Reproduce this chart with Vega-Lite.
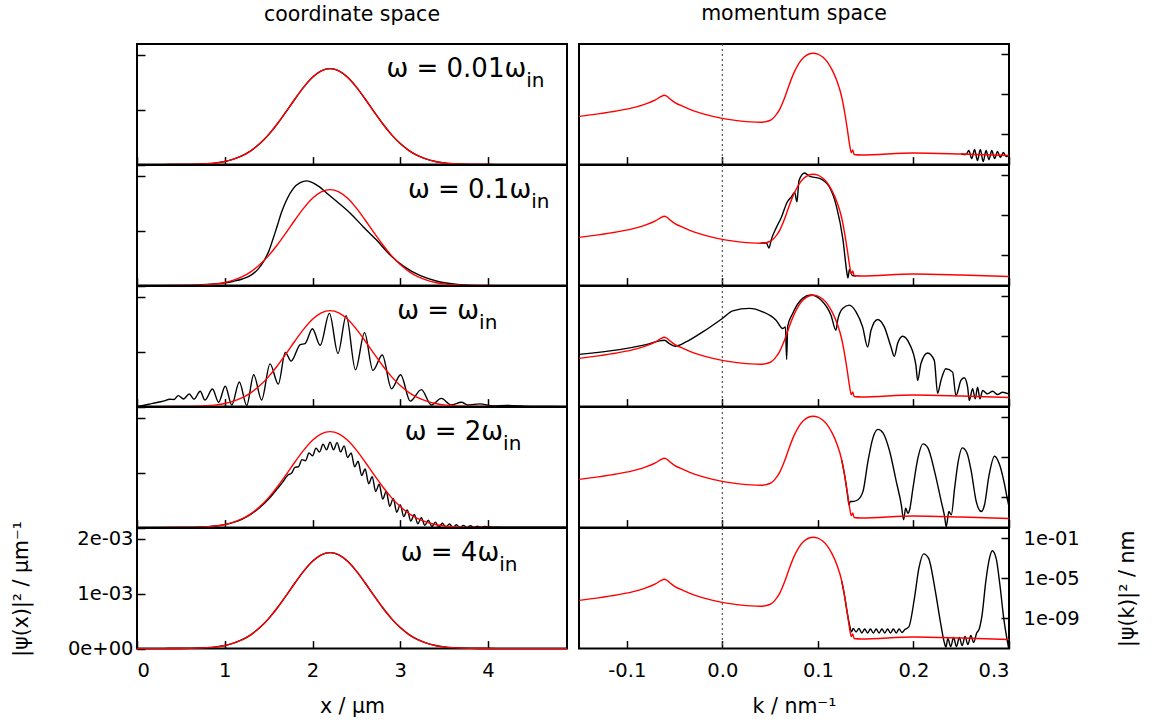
{
  "$schema": "https://vega.github.io/schema/vega-lite/v6.json",
  "background": "white",
  "padding": {"left": 10, "top": 3, "right": 5, "bottom": 5},
  "config": {
    "font": "DejaVu Sans",
    "view": {"stroke": "black", "strokeWidth": 2},
    "axis": {"domain": false, "grid": false, "tickColor": "black", "tickWidth": 1.5, "tickSize": -8, "labelFont": "DejaVu Sans", "labelFontSize": 19.5, "labelColor": "black", "titleFont": "DejaVu Sans", "titleFontSize": 20.5, "titleFontWeight": "normal", "titleColor": "black"},
    "line": {"strokeWidth": 1.4, "interpolate": "monotone", "clip": true},
    "text": {"font": "DejaVu Sans", "color": "black"},
    "title": {"font": "DejaVu Sans", "fontSize": 20.5, "fontWeight": "normal", "color": "black"}
  },
  "datasets": {
    "redL": [
      {"x": 0, "y": 0}, {"x": 0.3, "y": 0}, {"x": 0.4, "y": 0.001}, {"x": 0.5, "y": 0.002}, {"x": 0.6, "y": 0.004}, {"x": 0.7, "y": 0.008}, {"x": 0.8, "y": 0.017}, {"x": 0.9, "y": 0.032}, {"x": 1.0, "y": 0.057}, {"x": 1.1, "y": 0.099}, {"x": 1.2, "y": 0.163}, {"x": 1.3, "y": 0.256}, {"x": 1.4, "y": 0.383}, {"x": 1.5, "y": 0.547}, {"x": 1.6, "y": 0.745}, {"x": 1.7, "y": 0.967}, {"x": 1.8, "y": 1.197}, {"x": 1.9, "y": 1.413}, {"x": 2.0, "y": 1.592}, {"x": 2.1, "y": 1.709}, {"x": 2.2, "y": 1.75}, {"x": 2.3, "y": 1.709}, {"x": 2.4, "y": 1.592}, {"x": 2.5, "y": 1.413}, {"x": 2.6, "y": 1.197}, {"x": 2.7, "y": 0.967}, {"x": 2.8, "y": 0.745}, {"x": 2.9, "y": 0.547}, {"x": 3.0, "y": 0.383}, {"x": 3.1, "y": 0.256}, {"x": 3.2, "y": 0.163}, {"x": 3.3, "y": 0.099}, {"x": 3.4, "y": 0.057}, {"x": 3.5, "y": 0.032}, {"x": 3.6, "y": 0.017}, {"x": 3.7, "y": 0.008}, {"x": 3.8, "y": 0.004}, {"x": 3.9, "y": 0.002}, {"x": 4.0, "y": 0.001}, {"x": 4.1, "y": 0}, {"x": 4.9, "y": 0}
    ],
    "b2L": [
      {"x": 0, "y": 0}, {"x": 0.6, "y": 0.004}, {"x": 0.8, "y": 0.02}, {"x": 1.0, "y": 0.05}, {"x": 1.1, "y": 0.08}, {"x": 1.2, "y": 0.12}, {"x": 1.3, "y": 0.19}, {"x": 1.38, "y": 0.3}, {"x": 1.45, "y": 0.46}, {"x": 1.5, "y": 0.62}, {"x": 1.55, "y": 0.85}, {"x": 1.6, "y": 1.1}, {"x": 1.65, "y": 1.35}, {"x": 1.71, "y": 1.58}, {"x": 1.78, "y": 1.77}, {"x": 1.86, "y": 1.88}, {"x": 1.935, "y": 1.91}, {"x": 2.0, "y": 1.88}, {"x": 2.08, "y": 1.8}, {"x": 2.16, "y": 1.69}, {"x": 2.28, "y": 1.53}, {"x": 2.43, "y": 1.32}, {"x": 2.58, "y": 1.07}, {"x": 2.73, "y": 0.83}, {"x": 2.89, "y": 0.55}, {"x": 3.04, "y": 0.35}, {"x": 3.23, "y": 0.18}, {"x": 3.42, "y": 0.08}, {"x": 3.65, "y": 0.02}, {"x": 3.8, "y": 0.005}, {"x": 4.0, "y": 0}, {"x": 4.9, "y": 0}
    ],
    "b3L": [
      {"x": 0, "y": 0}, {"x": 0.07, "y": 0.02}, {"x": 0.18, "y": 0.06}, {"x": 0.3, "y": 0.1}, {"x": 0.375, "y": 0.135}, {"x": 0.42, "y": 0.13}, {"x": 0.47, "y": 0.2}, {"x": 0.53, "y": 0.14}, {"x": 0.595, "y": 0.23}, {"x": 0.65, "y": 0.135}, {"x": 0.72, "y": 0.28}, {"x": 0.775, "y": 0.12}, {"x": 0.86, "y": 0.32}, {"x": 0.93, "y": 0.08}, {"x": 1.006, "y": 0.37}, {"x": 1.08, "y": 0.03}, {"x": 1.166, "y": 0.45}, {"x": 1.25, "y": 0.02}, {"x": 1.33, "y": 0.58}, {"x": 1.42, "y": 0.12}, {"x": 1.516, "y": 0.78}, {"x": 1.61, "y": 0.41}, {"x": 1.69, "y": 0.99}, {"x": 1.756, "y": 0.83}, {"x": 1.86, "y": 1.13}, {"x": 1.915, "y": 1.15}, {"x": 1.999, "y": 1.42}, {"x": 2.087, "y": 1.12}, {"x": 2.193, "y": 1.7}, {"x": 2.29, "y": 0.97}, {"x": 2.384, "y": 1.66}, {"x": 2.49, "y": 0.67}, {"x": 2.593, "y": 1.35}, {"x": 2.688, "y": 0.66}, {"x": 2.795, "y": 0.94}, {"x": 2.9, "y": 0.325}, {"x": 3.004, "y": 0.58}, {"x": 3.114, "y": 0.1}, {"x": 3.24, "y": 0.31}, {"x": 3.354, "y": 0.03}, {"x": 3.468, "y": 0.15}, {"x": 3.58, "y": 0.03}, {"x": 3.697, "y": 0.08}, {"x": 3.77, "y": 0.03}, {"x": 3.906, "y": 0.05}, {"x": 4.06, "y": 0.012}, {"x": 4.21, "y": 0.02}, {"x": 4.5, "y": 0.005}, {"x": 4.9, "y": 0}
    ],
    "b4L": [
      {"x": 0, "y": 0}, {"x": 0.5, "y": 0.002}, {"x": 0.7, "y": 0.008}, {"x": 0.9, "y": 0.03}, {"x": 1.0, "y": 0.055}, {"x": 1.1, "y": 0.095}, {"x": 1.2, "y": 0.155}, {"x": 1.3, "y": 0.245}, {"x": 1.4, "y": 0.365}, {"x": 1.5, "y": 0.52}, {"x": 1.6, "y": 0.71}, {"x": 1.66, "y": 0.83}, {"x": 1.72, "y": 0.96}, {"x": 1.76, "y": 0.99}, {"x": 1.8, "y": 1.1}, {"x": 1.84, "y": 1.11}, {"x": 1.88, "y": 1.24}, {"x": 1.92, "y": 1.22}, {"x": 1.96, "y": 1.36}, {"x": 2.0, "y": 1.31}, {"x": 2.04, "y": 1.45}, {"x": 2.08, "y": 1.38}, {"x": 2.12, "y": 1.52}, {"x": 2.16, "y": 1.42}, {"x": 2.2, "y": 1.56}, {"x": 2.24, "y": 1.42}, {"x": 2.28, "y": 1.55}, {"x": 2.32, "y": 1.38}, {"x": 2.36, "y": 1.49}, {"x": 2.4, "y": 1.28}, {"x": 2.44, "y": 1.36}, {"x": 2.48, "y": 1.11}, {"x": 2.52, "y": 1.21}, {"x": 2.56, "y": 0.95}, {"x": 2.6, "y": 1.07}, {"x": 2.64, "y": 0.8}, {"x": 2.68, "y": 0.93}, {"x": 2.72, "y": 0.66}, {"x": 2.76, "y": 0.79}, {"x": 2.8, "y": 0.52}, {"x": 2.84, "y": 0.66}, {"x": 2.88, "y": 0.39}, {"x": 2.92, "y": 0.53}, {"x": 2.96, "y": 0.28}, {"x": 3.0, "y": 0.42}, {"x": 3.04, "y": 0.2}, {"x": 3.08, "y": 0.32}, {"x": 3.12, "y": 0.12}, {"x": 3.16, "y": 0.24}, {"x": 3.2, "y": 0.07}, {"x": 3.24, "y": 0.18}, {"x": 3.28, "y": 0.04}, {"x": 3.32, "y": 0.135}, {"x": 3.36, "y": 0.02}, {"x": 3.4, "y": 0.1}, {"x": 3.44, "y": 0.012}, {"x": 3.48, "y": 0.08}, {"x": 3.52, "y": 0.005}, {"x": 3.56, "y": 0.065}, {"x": 3.6, "y": 0.002}, {"x": 3.64, "y": 0.052}, {"x": 3.68, "y": 0.002}, {"x": 3.72, "y": 0.041}, {"x": 3.76, "y": 0.002}, {"x": 3.8, "y": 0.035}, {"x": 3.84, "y": 0.005}, {"x": 3.88, "y": 0.025}, {"x": 3.92, "y": 0.005}, {"x": 3.96, "y": 0.02}, {"x": 4.0, "y": 0.01}, {"x": 4.2, "y": 0.008}, {"x": 4.9, "y": 0.005}
    ],
    "redR": [
      {"k": -0.15, "lg": -7.2}, {"k": -0.13, "lg": -6.95}, {"k": -0.11, "lg": -6.65}, {"k": -0.09, "lg": -6.25}, {"k": -0.08, "lg": -5.95}, {"k": -0.07, "lg": -5.55}, {"k": -0.064, "lg": -5.22}, {"k": -0.061, "lg": -5.1}, {"k": -0.058, "lg": -5.2}, {"k": -0.055, "lg": -5.45}, {"k": -0.05, "lg": -5.8}, {"k": -0.04, "lg": -6.25}, {"k": -0.03, "lg": -6.65}, {"k": -0.02, "lg": -6.95}, {"k": -0.01, "lg": -7.2}, {"k": 0, "lg": -7.4}, {"k": 0.01, "lg": -7.55}, {"k": 0.02, "lg": -7.67}, {"k": 0.03, "lg": -7.75}, {"k": 0.04, "lg": -7.78}, {"k": 0.046, "lg": -7.72}, {"k": 0.051, "lg": -7.55}, {"k": 0.055, "lg": -7.2}, {"k": 0.06, "lg": -6.5}, {"k": 0.065, "lg": -5.4}, {"k": 0.07, "lg": -4.05}, {"k": 0.075, "lg": -2.85}, {"k": 0.08, "lg": -1.95}, {"k": 0.085, "lg": -1.35}, {"k": 0.09, "lg": -1.02}, {"k": 0.095, "lg": -0.92}, {"k": 0.1, "lg": -1.0}, {"k": 0.105, "lg": -1.3}, {"k": 0.11, "lg": -1.8}, {"k": 0.115, "lg": -2.6}, {"k": 0.12, "lg": -3.7}, {"k": 0.125, "lg": -5.3}, {"k": 0.128, "lg": -6.8}, {"k": 0.131, "lg": -8.6}, {"k": 0.133, "lg": -9.9}, {"k": 0.135, "lg": -10.8}, {"k": 0.1365, "lg": -10.55}, {"k": 0.138, "lg": -11.0}, {"k": 0.145, "lg": -11.05}, {"k": 0.2, "lg": -10.85}, {"k": 0.25, "lg": -10.95}, {"k": 0.3, "lg": -11.1}
    ],
    "b1R": [
      {"k": 0.25, "lg": -10.95}, {"k": 0.255, "lg": -11.0}, {"k": 0.258, "lg": -10.6}, {"k": 0.261, "lg": -11.4}, {"k": 0.264, "lg": -10.5}, {"k": 0.267, "lg": -11.6}, {"k": 0.27, "lg": -10.5}, {"k": 0.273, "lg": -11.7}, {"k": 0.276, "lg": -10.6}, {"k": 0.279, "lg": -11.5}, {"k": 0.282, "lg": -10.6}, {"k": 0.285, "lg": -11.4}, {"k": 0.288, "lg": -10.7}, {"k": 0.291, "lg": -11.3}, {"k": 0.294, "lg": -10.8}, {"k": 0.297, "lg": -11.2}, {"k": 0.3, "lg": -11.1}
    ],
    "b2R": [
      {"k": 0.04, "lg": -7.78}, {"k": 0.046, "lg": -7.73}, {"k": 0.0488, "lg": -8.27}, {"k": 0.0513, "lg": -7.4}, {"k": 0.0565, "lg": -6.23}, {"k": 0.0617, "lg": -5.23}, {"k": 0.0677, "lg": -3.73}, {"k": 0.0722, "lg": -3.17}, {"k": 0.0757, "lg": -2.73}, {"k": 0.0781, "lg": -3.67}, {"k": 0.0802, "lg": -1.57}, {"k": 0.0861, "lg": -0.8}, {"k": 0.0914, "lg": -1.13}, {"k": 0.1018, "lg": -1.33}, {"k": 0.1123, "lg": -2.23}, {"k": 0.1193, "lg": -4.07}, {"k": 0.1262, "lg": -7.4}, {"k": 0.1304, "lg": -10.73}, {"k": 0.1315, "lg": -11.23}, {"k": 0.133, "lg": -10.4}, {"k": 0.136, "lg": -11.0}, {"k": 0.14, "lg": -11.05}
    ],
    "b3R": [
      {"k": -0.15, "lg": -6.8}, {"k": -0.1077, "lg": -6.33}, {"k": -0.0798, "lg": -5.83}, {"k": -0.0606, "lg": -5.4}, {"k": -0.0554, "lg": -5.73}, {"k": -0.0491, "lg": -6.0}, {"k": -0.038, "lg": -5.57}, {"k": -0.0205, "lg": -4.57}, {"k": 0, "lg": -3.23}, {"k": 0.0109, "lg": -2.47}, {"k": 0.0283, "lg": -2.23}, {"k": 0.0422, "lg": -2.57}, {"k": 0.0562, "lg": -3.4}, {"k": 0.0632, "lg": -4.23}, {"k": 0.066, "lg": -4.07}, {"k": 0.0673, "lg": -7.3}, {"k": 0.0684, "lg": -4.0}, {"k": 0.0736, "lg": -2.73}, {"k": 0.0841, "lg": -1.23}, {"k": 0.0928, "lg": -0.9}, {"k": 0.1033, "lg": -1.4}, {"k": 0.1137, "lg": -2.9}, {"k": 0.1189, "lg": -4.4}, {"k": 0.1207, "lg": -3.4}, {"k": 0.1259, "lg": -2.23}, {"k": 0.1329, "lg": -1.9}, {"k": 0.1399, "lg": -2.57}, {"k": 0.1468, "lg": -4.07}, {"k": 0.1521, "lg": -6.07}, {"k": 0.1556, "lg": -4.4}, {"k": 0.1625, "lg": -3.33}, {"k": 0.1695, "lg": -4.07}, {"k": 0.1765, "lg": -6.07}, {"k": 0.18, "lg": -7.0}, {"k": 0.1834, "lg": -5.73}, {"k": 0.1887, "lg": -5.0}, {"k": 0.1957, "lg": -5.73}, {"k": 0.2026, "lg": -7.9}, {"k": 0.2044, "lg": -9.4}, {"k": 0.2078, "lg": -7.73}, {"k": 0.2148, "lg": -6.67}, {"k": 0.2218, "lg": -7.4}, {"k": 0.2253, "lg": -10.67}, {"k": 0.2288, "lg": -9.4}, {"k": 0.234, "lg": -8.23}, {"k": 0.241, "lg": -8.57}, {"k": 0.2445, "lg": -10.9}, {"k": 0.2497, "lg": -9.4}, {"k": 0.2532, "lg": -9.13}, {"k": 0.2567, "lg": -10.07}, {"k": 0.2584, "lg": -11.4}, {"k": 0.2619, "lg": -10.23}, {"k": 0.2647, "lg": -11.23}, {"k": 0.2671, "lg": -10.07}, {"k": 0.2696, "lg": -11.23}, {"k": 0.2724, "lg": -10.4}, {"k": 0.2776, "lg": -10.73}, {"k": 0.2828, "lg": -10.47}, {"k": 0.2881, "lg": -10.8}, {"k": 0.2933, "lg": -10.57}, {"k": 0.2996, "lg": -10.73}
    ],
    "b4R": [
      {"k": 0.125, "lg": -5.3}, {"k": 0.128, "lg": -6.8}, {"k": 0.1315, "lg": -9.07}, {"k": 0.1325, "lg": -9.73}, {"k": 0.1339, "lg": -9.4}, {"k": 0.1367, "lg": -9.4}, {"k": 0.1419, "lg": -9.23}, {"k": 0.1472, "lg": -8.4}, {"k": 0.1524, "lg": -5.4}, {"k": 0.1576, "lg": -3.07}, {"k": 0.1629, "lg": -2.23}, {"k": 0.1681, "lg": -2.57}, {"k": 0.1751, "lg": -4.4}, {"k": 0.182, "lg": -7.4}, {"k": 0.1873, "lg": -9.73}, {"k": 0.1897, "lg": -11.23}, {"k": 0.1918, "lg": -10.07}, {"k": 0.1942, "lg": -10.57}, {"k": 0.196, "lg": -10.23}, {"k": 0.1995, "lg": -8.07}, {"k": 0.2047, "lg": -5.07}, {"k": 0.21, "lg": -3.67}, {"k": 0.2151, "lg": -4.07}, {"k": 0.2221, "lg": -6.4}, {"k": 0.2291, "lg": -9.4}, {"k": 0.2326, "lg": -10.9}, {"k": 0.2343, "lg": -11.9}, {"k": 0.2371, "lg": -10.4}, {"k": 0.2396, "lg": -10.73}, {"k": 0.2431, "lg": -8.07}, {"k": 0.2466, "lg": -5.57}, {"k": 0.2511, "lg": -4.07}, {"k": 0.256, "lg": -4.57}, {"k": 0.2605, "lg": -6.4}, {"k": 0.2657, "lg": -9.4}, {"k": 0.271, "lg": -10.4}, {"k": 0.2744, "lg": -9.73}, {"k": 0.2789, "lg": -6.9}, {"k": 0.2849, "lg": -4.9}, {"k": 0.2901, "lg": -5.73}, {"k": 0.2954, "lg": -7.73}, {"k": 0.2988, "lg": -9.4}, {"k": 0.3, "lg": -9.9}
    ],
    "b5R": [
      {"k": 0.125, "lg": -5.3}, {"k": 0.128, "lg": -6.8}, {"k": 0.131, "lg": -8.6}, {"k": 0.1332, "lg": -9.67}, {"k": 0.1351, "lg": -10.33}, {"k": 0.137, "lg": -10.0}, {"k": 0.14, "lg": -10.35}, {"k": 0.143, "lg": -10.0}, {"k": 0.146, "lg": -10.45}, {"k": 0.149, "lg": -10.05}, {"k": 0.152, "lg": -10.45}, {"k": 0.155, "lg": -10.05}, {"k": 0.158, "lg": -10.45}, {"k": 0.161, "lg": -10.05}, {"k": 0.164, "lg": -10.45}, {"k": 0.167, "lg": -10.05}, {"k": 0.17, "lg": -10.45}, {"k": 0.173, "lg": -10.05}, {"k": 0.176, "lg": -10.45}, {"k": 0.179, "lg": -10.05}, {"k": 0.182, "lg": -10.45}, {"k": 0.185, "lg": -10.05}, {"k": 0.188, "lg": -10.4}, {"k": 0.191, "lg": -10.1}, {"k": 0.1952, "lg": -9.83}, {"k": 0.201, "lg": -7.0}, {"k": 0.2057, "lg": -4.0}, {"k": 0.2107, "lg": -2.57}, {"k": 0.2158, "lg": -3.0}, {"k": 0.2224, "lg": -6.0}, {"k": 0.2282, "lg": -9.33}, {"k": 0.2321, "lg": -11.33}, {"k": 0.234, "lg": -11.85}, {"k": 0.236, "lg": -11.0}, {"k": 0.239, "lg": -11.8}, {"k": 0.242, "lg": -10.9}, {"k": 0.245, "lg": -11.8}, {"k": 0.248, "lg": -10.9}, {"k": 0.251, "lg": -11.7}, {"k": 0.254, "lg": -10.8}, {"k": 0.257, "lg": -11.6}, {"k": 0.26, "lg": -10.7}, {"k": 0.263, "lg": -11.4}, {"k": 0.266, "lg": -10.5}, {"k": 0.269, "lg": -10.0}, {"k": 0.2718, "lg": -8.67}, {"k": 0.2757, "lg": -5.33}, {"k": 0.2796, "lg": -3.0}, {"k": 0.2825, "lg": -2.27}, {"k": 0.2865, "lg": -3.0}, {"k": 0.2905, "lg": -5.67}, {"k": 0.2945, "lg": -9.0}, {"k": 0.2995, "lg": -11.9}
    ]
  },
  "columns": 2,
  "spacing": {"row": 0, "column": 12},
  "bounds": "flush",
  "concat": [
    {
      "width": 430, "height": 120.6,
      "title": {"text": "coordinate space", "offset": 18.5},
      "layer": [
        {"data": {"name": "redL"}, "mark": {"type": "line", "color": "black"},
         "encoding": {"x": {"field": "x", "type": "quantitative", "scale": {"domain": [0, 4.9], "nice": false, "zero": false}, "axis": {"values": [0, 1, 2, 3, 4], "labels": false, "title": null}},
                      "y": {"field": "y", "type": "quantitative", "scale": {"domain": [0, 2.2], "nice": false}, "axis": {"values": [0, 1, 2], "labels": false, "title": null}}}},
        {"data": {"name": "redL"}, "mark": {"type": "line", "color": "red"},
         "encoding": {"x": {"field": "x", "type": "quantitative"}, "y": {"field": "y", "type": "quantitative"}}},
        {"data": {"values": [{}]}, "mark": {"type": "text", "align": "right", "baseline": "alphabetic", "fontSize": 26},
         "encoding": {"x": {"datum": 4.435}, "y": {"datum": 1.6}, "text": {"value": "ω = 0.01ω"}}},
        {"data": {"values": [{}]}, "mark": {"type": "text", "align": "left", "baseline": "alphabetic", "fontSize": 20, "dy": 10},
         "encoding": {"x": {"datum": 4.435}, "y": {"datum": 1.6}, "text": {"value": "in"}}}
      ]
    },
    {
      "width": 430, "height": 120.6,
      "title": {"text": "momentum space", "offset": 18.5},
      "layer": [
        {"data": {"values": [{}]}, "mark": {"type": "rule", "color": "#555555", "strokeDash": [2, 3], "strokeWidth": 1.2},
         "encoding": {"x": {"datum": 0, "type": "quantitative"}}},
        {"data": {"name": "b1R"}, "mark": {"type": "line", "color": "black"},
         "encoding": {"x": {"field": "k", "type": "quantitative", "scale": {"domain": [-0.15, 0.3], "nice": false, "zero": false}, "axis": {"values": [-0.1, 0, 0.1, 0.2, 0.3], "labels": false, "title": null}},
                      "y": {"field": "lg", "type": "quantitative", "scale": {"domain": [-12, 0], "nice": false, "zero": false}, "axis": {"orient": "right", "values": [-1, -5, -9], "labels": false, "title": null}}}},
        {"data": {"name": "redR"}, "mark": {"type": "line", "color": "red"},
         "encoding": {"x": {"field": "k", "type": "quantitative"}, "y": {"field": "lg", "type": "quantitative"}}}
      ]
    },
    {
      "width": 430, "height": 120.6,
      "layer": [
        {"data": {"name": "b2L"}, "mark": {"type": "line", "color": "black"},
         "encoding": {"x": {"field": "x", "type": "quantitative", "scale": {"domain": [0, 4.9], "nice": false, "zero": false}, "axis": {"values": [0, 1, 2, 3, 4], "labels": false, "title": null}},
                      "y": {"field": "y", "type": "quantitative", "scale": {"domain": [0, 2.2], "nice": false}, "axis": {"values": [0, 1, 2], "labels": false, "title": null}}}},
        {"data": {"name": "redL"}, "mark": {"type": "line", "color": "red"},
         "encoding": {"x": {"field": "x", "type": "quantitative"}, "y": {"field": "y", "type": "quantitative"}}},
        {"data": {"values": [{}]}, "mark": {"type": "text", "align": "right", "baseline": "alphabetic", "fontSize": 26},
         "encoding": {"x": {"datum": 4.492}, "y": {"datum": 1.6}, "text": {"value": "ω = 0.1ω"}}},
        {"data": {"values": [{}]}, "mark": {"type": "text", "align": "left", "baseline": "alphabetic", "fontSize": 20, "dy": 10},
         "encoding": {"x": {"datum": 4.492}, "y": {"datum": 1.6}, "text": {"value": "in"}}}
      ]
    },
    {
      "width": 430, "height": 120.6,
      "layer": [
        {"data": {"values": [{}]}, "mark": {"type": "rule", "color": "#555555", "strokeDash": [2, 3], "strokeWidth": 1.2},
         "encoding": {"x": {"datum": 0, "type": "quantitative"}}},
        {"data": {"name": "b2R"}, "mark": {"type": "line", "color": "black"},
         "encoding": {"x": {"field": "k", "type": "quantitative", "scale": {"domain": [-0.15, 0.3], "nice": false, "zero": false}, "axis": {"values": [-0.1, 0, 0.1, 0.2, 0.3], "labels": false, "title": null}},
                      "y": {"field": "lg", "type": "quantitative", "scale": {"domain": [-12, 0], "nice": false, "zero": false}, "axis": {"orient": "right", "values": [-1, -5, -9], "labels": false, "title": null}}}},
        {"data": {"name": "redR"}, "mark": {"type": "line", "color": "red"},
         "encoding": {"x": {"field": "k", "type": "quantitative"}, "y": {"field": "lg", "type": "quantitative"}}}
      ]
    },
    {
      "width": 430, "height": 120.6,
      "layer": [
        {"data": {"name": "b3L"}, "mark": {"type": "line", "color": "black"},
         "encoding": {"x": {"field": "x", "type": "quantitative", "scale": {"domain": [0, 4.9], "nice": false, "zero": false}, "axis": {"values": [0, 1, 2, 3, 4], "labels": false, "title": null}},
                      "y": {"field": "y", "type": "quantitative", "scale": {"domain": [0, 2.2], "nice": false}, "axis": {"values": [0, 1, 2], "labels": false, "title": null}}}},
        {"data": {"name": "redL"}, "mark": {"type": "line", "color": "red"},
         "encoding": {"x": {"field": "x", "type": "quantitative"}, "y": {"field": "y", "type": "quantitative"}}},
        {"data": {"values": [{}]}, "mark": {"type": "text", "align": "right", "baseline": "alphabetic", "fontSize": 26},
         "encoding": {"x": {"datum": 3.898}, "y": {"datum": 1.6}, "text": {"value": "ω = ω"}}},
        {"data": {"values": [{}]}, "mark": {"type": "text", "align": "left", "baseline": "alphabetic", "fontSize": 20, "dy": 10},
         "encoding": {"x": {"datum": 3.898}, "y": {"datum": 1.6}, "text": {"value": "in"}}}
      ]
    },
    {
      "width": 430, "height": 120.6,
      "layer": [
        {"data": {"values": [{}]}, "mark": {"type": "rule", "color": "#555555", "strokeDash": [2, 3], "strokeWidth": 1.2},
         "encoding": {"x": {"datum": 0, "type": "quantitative"}}},
        {"data": {"name": "b3R"}, "mark": {"type": "line", "color": "black"},
         "encoding": {"x": {"field": "k", "type": "quantitative", "scale": {"domain": [-0.15, 0.3], "nice": false, "zero": false}, "axis": {"values": [-0.1, 0, 0.1, 0.2, 0.3], "labels": false, "title": null}},
                      "y": {"field": "lg", "type": "quantitative", "scale": {"domain": [-12, 0], "nice": false, "zero": false}, "axis": {"orient": "right", "values": [-1, -5, -9], "labels": false, "title": null}}}},
        {"data": {"name": "redR"}, "mark": {"type": "line", "color": "red"},
         "encoding": {"x": {"field": "k", "type": "quantitative"}, "y": {"field": "lg", "type": "quantitative"}}}
      ]
    },
    {
      "width": 430, "height": 120.6,
      "layer": [
        {"data": {"name": "b4L"}, "mark": {"type": "line", "color": "black"},
         "encoding": {"x": {"field": "x", "type": "quantitative", "scale": {"domain": [0, 4.9], "nice": false, "zero": false}, "axis": {"values": [0, 1, 2, 3, 4], "labels": false, "title": null}},
                      "y": {"field": "y", "type": "quantitative", "scale": {"domain": [0, 2.2], "nice": false}, "axis": {"values": [0, 1, 2], "labels": false, "title": null}}}},
        {"data": {"name": "redL"}, "mark": {"type": "line", "color": "red"},
         "encoding": {"x": {"field": "x", "type": "quantitative"}, "y": {"field": "y", "type": "quantitative"}}},
        {"data": {"values": [{}]}, "mark": {"type": "text", "align": "right", "baseline": "alphabetic", "fontSize": 26},
         "encoding": {"x": {"datum": 4.172}, "y": {"datum": 1.6}, "text": {"value": "ω = 2ω"}}},
        {"data": {"values": [{}]}, "mark": {"type": "text", "align": "left", "baseline": "alphabetic", "fontSize": 20, "dy": 10},
         "encoding": {"x": {"datum": 4.172}, "y": {"datum": 1.6}, "text": {"value": "in"}}}
      ]
    },
    {
      "width": 430, "height": 120.6,
      "layer": [
        {"data": {"values": [{}]}, "mark": {"type": "rule", "color": "#555555", "strokeDash": [2, 3], "strokeWidth": 1.2},
         "encoding": {"x": {"datum": 0, "type": "quantitative"}}},
        {"data": {"name": "b4R"}, "mark": {"type": "line", "color": "black"},
         "encoding": {"x": {"field": "k", "type": "quantitative", "scale": {"domain": [-0.15, 0.3], "nice": false, "zero": false}, "axis": {"values": [-0.1, 0, 0.1, 0.2, 0.3], "labels": false, "title": null}},
                      "y": {"field": "lg", "type": "quantitative", "scale": {"domain": [-12, 0], "nice": false, "zero": false}, "axis": {"orient": "right", "values": [-1, -5, -9], "labels": false, "title": null}}}},
        {"data": {"name": "redR"}, "mark": {"type": "line", "color": "red"},
         "encoding": {"x": {"field": "k", "type": "quantitative"}, "y": {"field": "lg", "type": "quantitative"}}}
      ]
    },
    {
      "width": 430, "height": 120.6,
      "layer": [
        {"data": {"name": "redL"}, "mark": {"type": "line", "color": "black"},
         "encoding": {"x": {"field": "x", "type": "quantitative", "scale": {"domain": [0, 4.9], "nice": false, "zero": false}, "axis": {"values": [0, 1, 2, 3, 4], "format": "d", "title": "x / μm", "labelPadding": 21, "titlePadding": 16}},
                      "y": {"field": "y", "type": "quantitative", "scale": {"domain": [0, 2.2], "nice": false}, "axis": {"values": [0, 1, 2], "labelExpr": "datum.value == 0 ? '0e+00' : datum.value + 'e-03'", "title": "|ψ(x)|² / μm⁻¹", "labelPadding": 12, "titlePadding": 36}}}},
        {"data": {"name": "redL"}, "mark": {"type": "line", "color": "red"},
         "encoding": {"x": {"field": "x", "type": "quantitative"}, "y": {"field": "y", "type": "quantitative"}}},
        {"data": {"values": [{}]}, "mark": {"type": "text", "align": "right", "baseline": "alphabetic", "fontSize": 26},
         "encoding": {"x": {"datum": 4.127}, "y": {"datum": 1.6}, "text": {"value": "ω = 4ω"}}},
        {"data": {"values": [{}]}, "mark": {"type": "text", "align": "left", "baseline": "alphabetic", "fontSize": 20, "dy": 10},
         "encoding": {"x": {"datum": 4.127}, "y": {"datum": 1.6}, "text": {"value": "in"}}}
      ]
    },
    {
      "width": 430, "height": 120.6,
      "layer": [
        {"data": {"values": [{}]}, "mark": {"type": "rule", "color": "#555555", "strokeDash": [2, 3], "strokeWidth": 1.2},
         "encoding": {"x": {"datum": 0, "type": "quantitative"}}},
        {"data": {"name": "b5R"}, "mark": {"type": "line", "color": "black"},
         "encoding": {"x": {"field": "k", "type": "quantitative", "scale": {"domain": [-0.15, 0.3], "nice": false, "zero": false}, "axis": {"values": [-0.1, 0, 0.1, 0.2, 0.3], "labelExpr": "datum.value < 0 ? '-' + format(-datum.value, '.1f') : format(datum.value, '.1f')", "title": "k / nm⁻¹", "labelPadding": 21, "titlePadding": 16}},
                      "y": {"field": "lg", "type": "quantitative", "scale": {"domain": [-12, 0], "nice": false, "zero": false}, "axis": {"orient": "right", "values": [-1, -5, -9], "labelExpr": "'1e-0' + (-datum.value)", "title": "|ψ(k)|² / nm", "titleAngle": 270, "labelPadding": 22, "titlePadding": 58}}}},
        {"data": {"name": "redR"}, "mark": {"type": "line", "color": "red"},
         "encoding": {"x": {"field": "k", "type": "quantitative"}, "y": {"field": "lg", "type": "quantitative"}}}
      ]
    }
  ]
}
